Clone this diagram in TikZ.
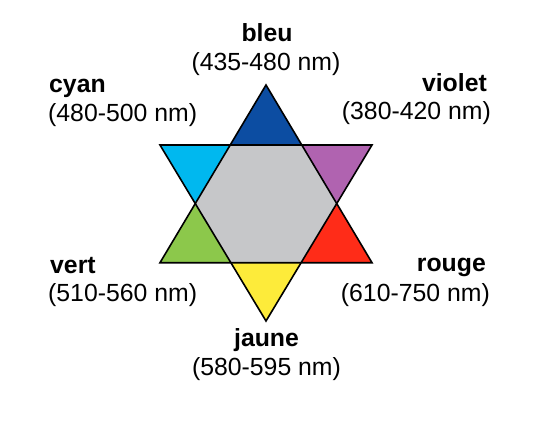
\documentclass[tikz,border=0pt]{standalone}
\usepackage{fontspec}
\setmainfont{Liberation Sans}

\definecolor{bleu}{HTML}{0C4DA2}
\definecolor{cyanc}{HTML}{00B8EF}
\definecolor{violetc}{HTML}{B063B0}
\definecolor{rouge}{HTML}{FF2C18}
\definecolor{vert}{HTML}{8CC84B}
\definecolor{jaune}{HTML}{FDEB3A}
\definecolor{centre}{HTML}{C6C7C9}

\tikzset{
  huelabel/.style={inner sep=0pt, font=\fontsize{24.8}{30}\selectfont\bfseries},
  nmlabel/.style={inner sep=0pt, font=\fontsize{24.8}{30}\selectfont},
  edge/.style={draw=black, line width=1.6pt, line join=miter}
}

\begin{document}
\begin{tikzpicture}[x=1pt, y=-1pt]
    \useasboundingbox (0,0) rectangle (534,428);

    % the corners of the two big triangles
    \coordinate (T)  at (266,85);
    \coordinate (BL) at (160,262.7);
    \coordinate (BR) at (372,262.7);
    \coordinate (TL) at (160,145);
    \coordinate (TR) at (372,145);
    \coordinate (B)  at (266,321);

    % the corners of the hexagon in the middle
    \coordinate (h1) at (intersection of T--BL and TL--TR);
    \coordinate (h2) at (intersection of T--BR and TL--TR);
    \coordinate (h3) at (intersection of T--BR and TR--B);
    \coordinate (h4) at (intersection of BL--BR and TR--B);
    \coordinate (h5) at (intersection of BL--BR and TL--B);
    \coordinate (h6) at (intersection of T--BL and TL--B);

    % fill the hexagon and the six points
    \fill[centre] (h1) -- (h2) -- (h3) -- (h4) -- (h5) -- (h6) -- cycle;
    \fill[bleu] (T) -- (h1) -- (h2) -- cycle;
    \fill[violetc] (TR) -- (h2) -- (h3) -- cycle;
    \fill[rouge] (BR) -- (h3) -- (h4) -- cycle;
    \fill[jaune] (B) -- (h4) -- (h5) -- cycle;
    \fill[vert] (BL) -- (h5) -- (h6) -- cycle;
    \fill[cyanc] (TL) -- (h6) -- (h1) -- cycle;

    % draw the two triangles
    \draw[edge] (T) -- (BL) -- (BR) -- cycle;
    \draw[edge] (TL) -- (TR) -- (B) -- cycle;

    % the texts
    \node[huelabel, anchor=base] (bleu) at (267,41.7) {bleu};
    \node[nmlabel, anchor=base] (bleunm) at (266,70) {(435-480 nm)};
    \node[huelabel, anchor=base west] (cyan) at (49,92.7) {cyan};
    \node[nmlabel, anchor=base west] (cyannm) at (48,121) {(480-500 nm)};
    \node[huelabel, anchor=base east] (violet) at (487,91.7) {violet};
    \node[nmlabel, anchor=base east] (violetnm) at (491,119) {(380-420 nm)};
    \node[huelabel, anchor=base west] (vert) at (50,273.3) {vert};
    \node[nmlabel, anchor=base west] (vertnm) at (48,301.7) {(510-560 nm)};
    \node[huelabel, anchor=base east] (rouge) at (486,271.7) {rouge};
    \node[nmlabel, anchor=base east] (rougenm) at (490,301.7) {(610-750 nm)};
    \node[huelabel, anchor=base] (jaune) at (266.5,346.7) {jaune};
    \node[nmlabel, anchor=base] (jaunenm) at (266.5,375) {(580-595 nm)};

\end{tikzpicture}
\end{document}
